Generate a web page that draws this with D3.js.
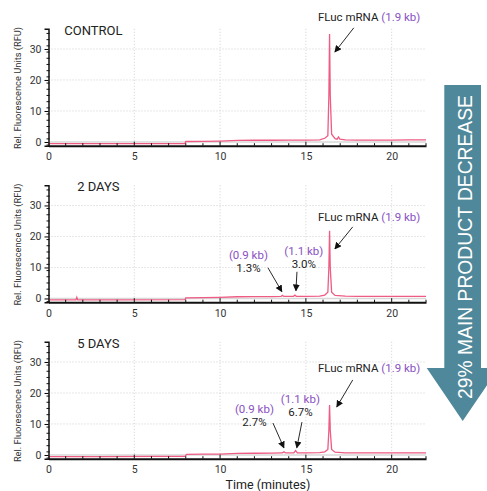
<!DOCTYPE html>
<html>
<head>
<meta charset="utf-8">
<script src="https://cdn.jsdelivr.net/npm/d3@7"></script>
<style>
	body { margin: 0; background: #fff; }
	svg { font-family: Roboto, "Noto Sans", sans-serif; }
</style>
</head>
<body>
<svg id="chart" width="487" height="491"></svg>
<script>

// Tick labels
var xTicks = [ 0, 5, 10, 15, 20 ];
var yTicks = [ 0, 10, 20, 30 ];

var panelTitles = [ 'CONTROL', '2 DAYS', '5 DAYS' ];

// Electropherogram traces, [ minutes, RFU ]
var controlTrace = [
	[ 0, -0.55 ], [ 2, -0.55 ], [ 4, -0.5 ], [ 6, -0.5 ], [ 7.95, -0.5 ], [ 8.0, 0.15 ],
	[ 9, 0.2 ], [ 10, 0.3 ], [ 11, 0.5 ], [ 12, 0.55 ], [ 13, 0.55 ], [ 14, 0.6 ],
	[ 15, 0.6 ], [ 15.8, 0.7 ], [ 16.1, 1.2 ], [ 16.28, 2.0 ], [ 16.34, 15 ], [ 16.38, 34.8 ],
	[ 16.42, 15 ], [ 16.5, 2.5 ], [ 16.7, 1.1 ], [ 16.82, 0.9 ], [ 16.9, 1.6 ], [ 16.98, 0.9 ],
	[ 17.3, 0.7 ], [ 18, 0.6 ], [ 20, 0.6 ], [ 21, 0.7 ], [ 22, 0.65 ]
];
var day2Trace = [
	[ 0, -0.45 ], [ 1.6, -0.45 ], [ 1.65, 0.4 ], [ 1.7, -0.45 ], [ 4, -0.45 ], [ 7.95, -0.4 ],
	[ 8.0, 0.2 ], [ 9, 0.25 ], [ 10, 0.35 ], [ 11, 0.55 ], [ 12, 0.6 ], [ 13, 0.6 ],
	[ 13.55, 0.65 ], [ 13.63, 1.0 ], [ 13.72, 0.65 ], [ 14.28, 0.7 ], [ 14.36, 1.1 ], [ 14.44, 0.7 ],
	[ 15, 0.7 ], [ 15.8, 0.75 ], [ 16.1, 1.1 ], [ 16.28, 2.0 ], [ 16.34, 10 ], [ 16.38, 21.8 ],
	[ 16.42, 10 ], [ 16.5, 2.0 ], [ 16.7, 1.0 ], [ 17.3, 0.75 ], [ 18, 0.7 ], [ 20, 0.7 ], [ 22, 0.7 ]
];
var day5Trace = [
	[ 0, -0.5 ], [ 3, -0.5 ], [ 6, -0.45 ], [ 7.95, -0.45 ], [ 8.05, 0.2 ], [ 9, 0.25 ],
	[ 10, 0.3 ], [ 11, 0.5 ], [ 12, 0.55 ], [ 13, 0.6 ], [ 13.62, 0.65 ], [ 13.72, 1.0 ],
	[ 13.82, 0.65 ], [ 14.3, 0.7 ], [ 14.4, 1.4 ], [ 14.5, 0.7 ], [ 15, 0.7 ], [ 15.8, 0.75 ],
	[ 16.1, 1.0 ], [ 16.28, 1.8 ], [ 16.34, 8 ], [ 16.38, 16.1 ], [ 16.42, 8 ], [ 16.5, 1.8 ],
	[ 16.7, 0.9 ], [ 17.3, 0.7 ], [ 18, 0.65 ], [ 20, 0.65 ], [ 22, 0.7 ]
];

var mainProduct = 'FLuc mRNA';
var mainSize = '(1.9 kb)';
var fragmentSizes = [ '(0.9 kb)', '(1.1 kb)' ];
var day2Percents = [ '1.3%', '3.0%' ];
var day5Percents = [ '2.7%', '6.7%' ];
var decreaseLabel = '29% MAIN PRODUCT DECREASE';

var svg = d3.select( '#chart' );

var purple = '#8a52c2';
var traceColor = '#ee5b83';

svg.append( 'defs' ).append( 'marker' )
	.attr( 'id', 'head' )
	.attr( 'viewBox', '0 0 10 10' )
	.attr( 'refX', 9 ).attr( 'refY', 5 )
	.attr( 'markerWidth', 7 ).attr( 'markerHeight', 7 )
	.attr( 'markerUnits', 'userSpaceOnUse' )
	.attr( 'orient', 'auto' )
	.append( 'path' )
	.attr( 'd', 'M0,0L10,5L0,10z' )
	.attr( 'fill', '#111' );

var x = d3.scaleLinear().domain( [ 0, 22 ] ).range( [ 48.5, 426 ] );

// Where the labels sit, in data units of each panel
var panels = [
	{
		title: panelTitles[0], trace: controlTrace,
		main: { text: [ 15.7, 39 ], from: [ 17.79, 36.8 ], to: [ 16.69, 29 ] },
		fragments: []
	},
	{
		title: panelTitles[1], trace: day2Trace,
		main: { text: [ 15.7, 25.1 ], from: [ 17.73, 23.1 ], to: [ 16.69, 16 ] },
		fragments: [
			{ size: fragmentSizes[0], pct: day2Percents[0], label: [ 11.65, 12.8 ], from: [ 12.79, 9.9 ], to: [ 13.6, 2.2 ] },
			{ size: fragmentSizes[1], pct: day2Percents[1], label: [ 14.88, 14.1 ], from: [ 14.48, 8.6 ], to: [ 14.42, 2.5 ] }
		]
	},
	{
		title: panelTitles[2], trace: day5Trace,
		main: { text: [ 15.7, 26.9 ], from: [ 17.73, 24.2 ], to: [ 16.8, 15.5 ] },
		fragments: [
			{ size: fragmentSizes[0], pct: day5Percents[0], label: [ 12.0, 13.6 ], from: [ 13.08, 10.3 ], to: [ 13.72, 2.3 ] },
			{ size: fragmentSizes[1], pct: day5Percents[1], label: [ 14.68, 16.8 ], from: [ 14.77, 10.6 ], to: [ 14.47, 2.3 ] }
		]
	}
];

panels.forEach( function ( p, i ) {

	var off = i * 156.5;
	var y = d3.scaleLinear().domain( [ -1.2, 36.5 ] ).range( [ 145.7 + off, 28.8 + off ] );
	var g = svg.append( 'g' );

	// Grid
	g.selectAll( '.hgrid' ).data( yTicks.slice( 1 ) ).enter().append( 'line' )
		.attr( 'x1', x( 0 ) ).attr( 'x2', x( 22 ) )
		.attr( 'y1', function ( d ) { return y( d ); } )
		.attr( 'y2', function ( d ) { return y( d ); } )
		.attr( 'stroke', '#cfcfcf' ).attr( 'stroke-dasharray', '1,2' );
	g.selectAll( '.vgrid' ).data( xTicks.slice( 1 ) ).enter().append( 'line' )
		.attr( 'y1', y( 36.5 ) ).attr( 'y2', y( -1.2 ) )
		.attr( 'x1', function ( d ) { return x( d ); } )
		.attr( 'x2', function ( d ) { return x( d ); } )
		.attr( 'stroke', '#cfcfcf' ).attr( 'stroke-dasharray', '1,2' );
	g.append( 'line' )
		.attr( 'x1', x( 0 ) ).attr( 'x2', x( 22 ) )
		.attr( 'y1', y( 0 ) ).attr( 'y2', y( 0 ) )
		.attr( 'stroke', '#d8d8d8' ).attr( 'stroke-width', 1.5 );

	// Trace
	var line = d3.line()
		.x( function ( d ) { return x( d[0] ); } )
		.y( function ( d ) { return y( d[1] ); } );
	g.append( 'path' ).attr( 'd', line( p.trace ) )
		.attr( 'fill', 'none' ).attr( 'stroke', traceColor ).attr( 'stroke-width', 1.3 );

	// Axes
	var xAxis = g.append( 'g' )
		.attr( 'transform', 'translate(0,' + y( -1.2 ) + ')' )
		.call( d3.axisBottom( x ).tickValues( xTicks ).tickSize( 0 ).tickPadding( 7 ) );
	xAxis.select( '.domain' ).attr( 'stroke', '#111' ).attr( 'stroke-width', 2 );
	xAxis.selectAll( 'text' ).attr( 'font-size', 10.5 ).attr( 'fill', '#333' ).attr( 'font-family', 'Roboto' );
	g.selectAll( '.xminor' ).data( d3.range( 1, 23 ) ).enter().append( 'line' )
		.attr( 'x1', function ( d ) { return x( d ); } )
		.attr( 'x2', function ( d ) { return x( d ); } )
		.attr( 'y1', y( -1.2 ) )
		.attr( 'y2', function ( d ) { return y( -1.2 ) - ( d % 5 === 0 ? 4 : 2.5 ); } )
		.attr( 'stroke', '#111' );

	var yAxis = g.append( 'g' )
		.attr( 'transform', 'translate(' + x( 0 ) + ',0)' )
		.call( d3.axisLeft( y ).tickValues( yTicks ).tickSize( 4 ).tickPadding( 3 ) );
	yAxis.select( '.domain' ).attr( 'stroke', '#111' ).attr( 'stroke-width', 1.5 );
	yAxis.selectAll( 'text' ).attr( 'font-size', 10.5 ).attr( 'fill', '#333' ).attr( 'font-family', 'Roboto' );
	g.selectAll( '.yminor' ).data( d3.range( -1, 37, 2 ) ).enter().append( 'line' )
		.attr( 'x1', x( 0 ) - 2 ).attr( 'x2', x( 0 ) + 1 )
		.attr( 'y1', function ( d ) { return y( d ); } )
		.attr( 'y2', function ( d ) { return y( d ); } )
		.attr( 'stroke', '#111' );

	g.append( 'text' )
		.attr( 'transform', 'translate(21,' + ( 88 + off ) + ') rotate(-90)' )
		.attr( 'text-anchor', 'middle' )
		.attr( 'font-size', 9.3 ).attr( 'fill', '#333' )
		.text( 'Rel. Fluorescence Units (RFU)' );

	g.append( 'text' )
		.attr( 'x', x( i === 0 ? 0.92 : 1.67 ) ).attr( 'y', y( 34.6 ) )
		.attr( 'font-size', 13 ).attr( 'fill', '#222' )
		.text( p.title );

	// Main product label
	var mt = g.append( 'text' )
		.attr( 'x', x( p.main.text[0] ) ).attr( 'y', y( p.main.text[1] ) )
		.attr( 'font-size', 11.5 ).attr( 'fill', '#222' );
	mt.append( 'tspan' ).text( mainProduct + ' ' );
	mt.append( 'tspan' ).attr( 'fill', purple ).text( mainSize );
	g.append( 'line' )
		.attr( 'x1', x( p.main.from[0] ) ).attr( 'y1', y( p.main.from[1] ) )
		.attr( 'x2', x( p.main.to[0] ) ).attr( 'y2', y( p.main.to[1] ) )
		.attr( 'stroke', '#111' ).attr( 'stroke-width', 0.9 ).attr( 'marker-end', 'url(#head)' );

	// Fragment labels
	p.fragments.forEach( function ( f ) {
		g.append( 'text' )
			.attr( 'x', x( f.label[0] ) ).attr( 'y', y( f.label[1] ) )
			.attr( 'text-anchor', 'middle' ).attr( 'font-size', 11.5 ).attr( 'fill', purple )
			.text( f.size );
		g.append( 'text' )
			.attr( 'x', x( f.label[0] ) ).attr( 'y', y( f.label[1] ) + 13 )
			.attr( 'text-anchor', 'middle' ).attr( 'font-size', 11.5 ).attr( 'fill', '#222' )
			.text( f.pct );
		g.append( 'line' )
			.attr( 'x1', x( f.from[0] ) ).attr( 'y1', y( f.from[1] ) )
			.attr( 'x2', x( f.to[0] ) ).attr( 'y2', y( f.to[1] ) )
			.attr( 'stroke', '#111' ).attr( 'stroke-width', 0.9 ).attr( 'marker-end', 'url(#head)' );
	} );
} );

svg.append( 'text' )
	.attr( 'x', 268 ).attr( 'y', 489 )
	.attr( 'text-anchor', 'middle' ).attr( 'font-size', 12.5 ).attr( 'fill', '#222' )
	.text( 'Time (minutes)' );

// Big decrease arrow on the right
var arrowPts = [ [ 444.3, 85 ], [ 481, 85 ], [ 481, 368 ], [ 498.7, 368 ], [ 462.7, 421 ], [ 426.7, 368 ], [ 444.3, 368 ] ];
svg.append( 'path' )
	.attr( 'd', d3.line()( arrowPts ) + 'Z' )
	.attr( 'fill', '#4f889a' );
svg.append( 'text' )
	.attr( 'transform', 'translate(471.5,247) rotate(-90)' )
	.attr( 'text-anchor', 'middle' )
	.attr( 'font-family', '"Liberation Sans", Arial, sans-serif' )
	.attr( 'font-size', 19.3 ).attr( 'fill', '#fff' )
	.text( decreaseLabel );

</script>
</body>
</html>
